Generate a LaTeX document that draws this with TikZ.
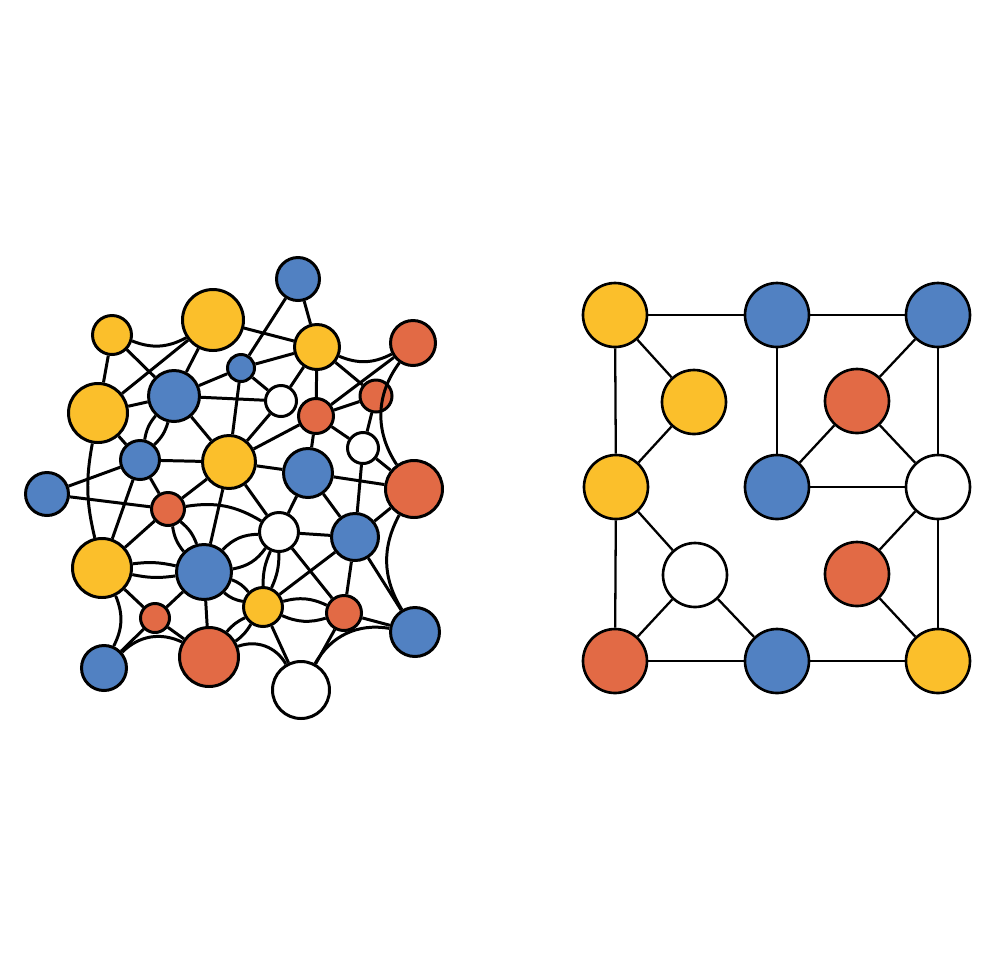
\documentclass[tikz,border=0pt]{standalone}
\definecolor{netyellow}{RGB}{251,191,43}
\definecolor{netblue}{RGB}{81,129,194}
\definecolor{netorange}{RGB}{226,106,69}
\tikzset{
    vertex/.style={circle,draw,line width=0.85pt,inner sep=0pt,minimum size=#1},
    link/.style={line width=0.85pt},
    gridlink/.style={line width=0.65pt}
}
\begin{document}
\begin{tikzpicture}[x=0.1mm,y=-0.1mm]
        \useasboundingbox (0,0) rectangle (1000,980);
        % left: tangled network
        \foreach \n/\x/\y/\d/\c in {
            ya/112/335/3.9/netyellow, yb/213/320/6.1/netyellow, ba/298/279/4.3/netblue,
            yc/317/347/4.5/netyellow, oa/413/343/4.5/netorange, bb/241/368/2.7/netblue,
            bc/174/396/5.1/netblue, yd/98/413/5.9/netyellow, wa/281/401/3.1/white,
            ob/376/396/3.2/netorange, oc/316/416/3.5/netorange, wb/363/448/3.1/white,
            bd/140/460/3.9/netblue, ye/229/462/5.3/netyellow, be/308/473/4.9/netblue,
            od/414/489/5.7/netorange, bf/47/494/4.3/netblue, oe/168/509/3.3/netorange,
            wc/279/532/3.9/white, bg/355/537/4.7/netblue, yf/102/568/5.9/netyellow,
            bh/204/572/5.5/netblue, yg/263/607/3.9/netyellow, of/155/618/2.9/netorange,
            og/344/613/3.5/netorange, bi/415/632/4.9/netblue, bj/104/668/4.5/netblue,
            oh/209/657/5.9/netorange, wd/301/690/5.7/white}{
            \node[vertex=\d mm,fill=\c] (\n) at (\x,\y) {};
        }
        \foreach \a/\b in {ya/yd,ya/bc,yb/yd,yb/bc,yb/yc,ba/bb,ba/yc,bb/yc,bb/bc,bb/wa,
            bb/ye,yc/wa,yc/oc,yc/ob,oa/oc,bc/wa,bc/yd,bc/ye,yd/bd,bd/ye,bd/bf,bd/yf,
            bd/oe,wa/ye,ye/oc,oc/ob,oc/be,oc/wb,ob/wb,wb/od,wb/bg,ye/be,be/od,ye/wc,
            ye/bh,be/wc,be/bg,wc/bg,wc/og,bg/yg,bg/og,bg/bi,bg/od,og/bi,og/wd,yg/wd,
            bh/oh,bf/oe,oe/ye,oe/yf,yf/of,of/bh,of/oh,of/bj}{
            \draw[link] (\a) -- (\b);
        }
        \foreach \a/\b/\k in {bc/bd/15,wc/bh/22,wc/yg/12,yg/og/20,yg/bh/15,yg/oh/12,
            oe/bh/15,yf/bh/10}{
            \draw[link] (\a) to[bend left=\k] (\b) (\a) to[bend right=\k] (\b);
        }
        \draw[link] (ya) to[bend right=25] (yb);
        \draw[link] (yc) to[bend right=25] (oa);
        \draw[link] (oa) to[bend right=35] (od);
        \draw[link] (od) to[bend right=30] (bi);
        \draw[link] (yd) to[bend right=12] (yf);
        \draw[link] (yf) to[bend left=25] (bj);
        \draw[link] (bj) to[bend left=35] (oh);
        \draw[link] (oh) to[bend left=40] (wd);
        \draw[link] (wd) to[bend left=35] (bi);
        \draw[link] (oe) to[bend left=20] (wc);
        % right: grid network
        \foreach \n/\x/\y/\c in {
            ra/615/315/netyellow, rb/777/315/netblue, rc/938/315/netblue,
            rd/694/402/netyellow, re/857/401/netorange, rf/616/487/netyellow,
            rg/777/487/netblue, rh/938/487/white, ri/695/575/white,
            rj/857/574/netorange, rk/615/661/netorange, rl/777/661/netblue,
            rm/938/661/netyellow}{
            \node[vertex=6.4mm,line width=0.75pt,fill=\c] (\n) at (\x,\y) {};
        }
        \foreach \a/\b in {ra/rb,rb/rc,ra/rf,rf/rk,ra/rd,rd/rf,rb/rg,rc/re,re/rg,re/rh,
            rc/rh,rh/rm,rg/rh,rh/rj,rj/rm,rf/ri,ri/rk,ri/rl,rk/rl,rl/rm}{
            \draw[gridlink] (\a) -- (\b);
        }
    \end{tikzpicture}
\end{document}
